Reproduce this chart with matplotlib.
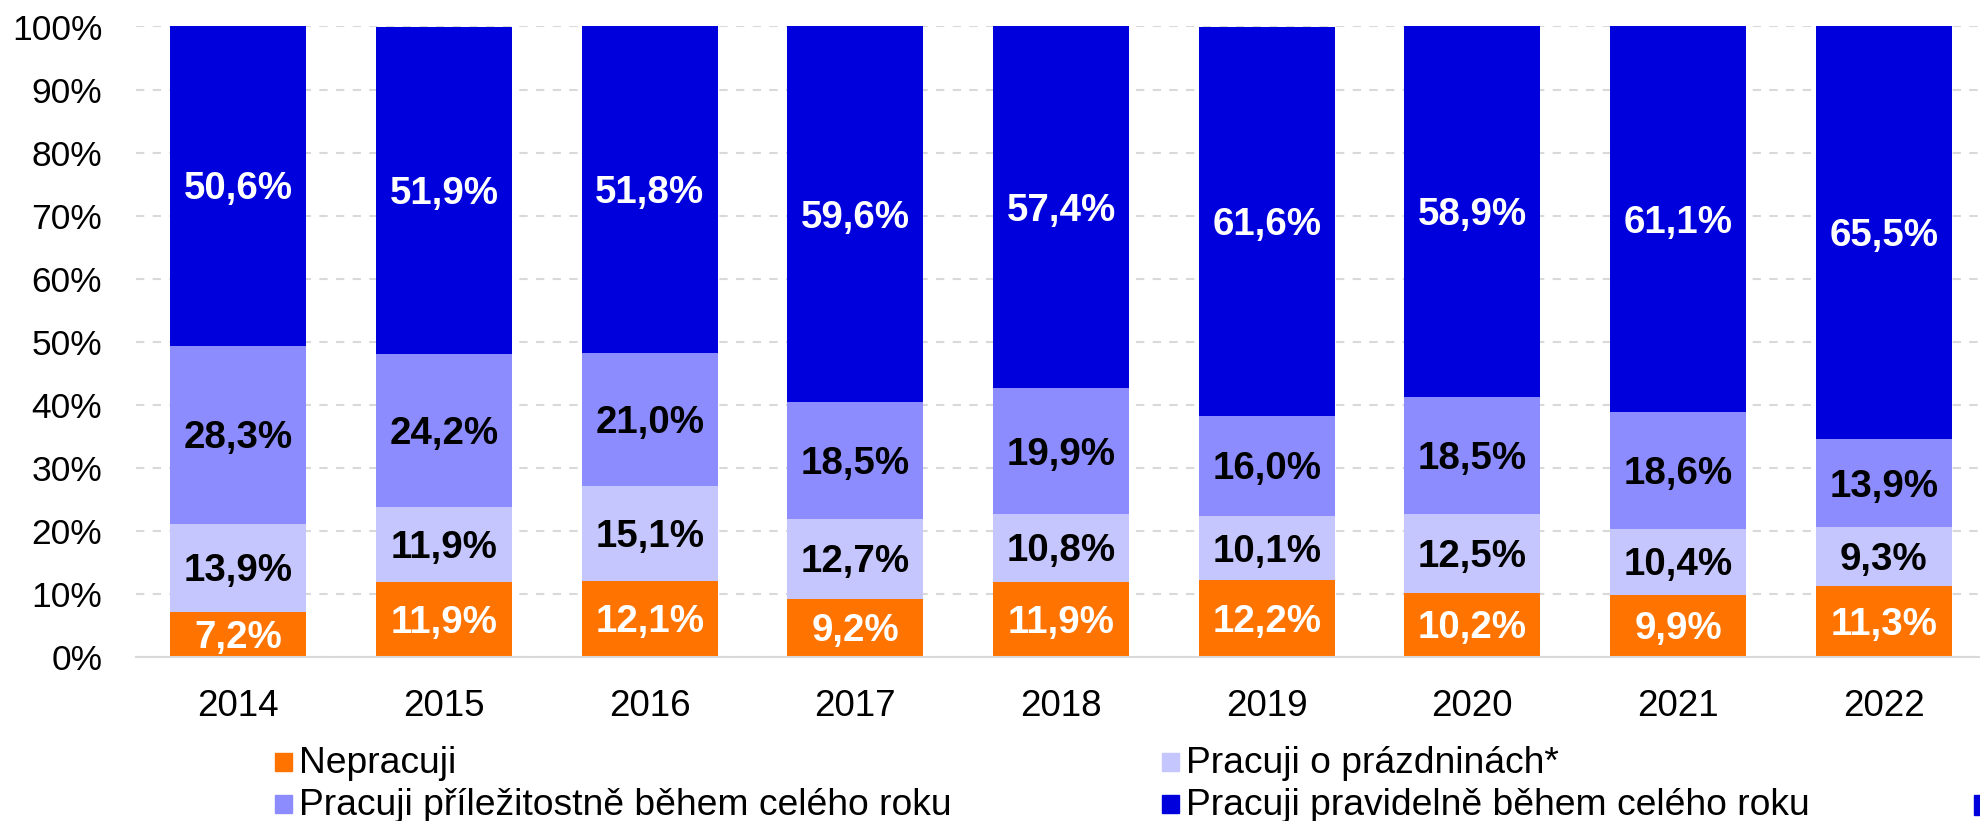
import matplotlib
matplotlib.use("Agg")
import matplotlib.pyplot as plt
from matplotlib.patches import Rectangle
import numpy as np

plt.rcParams['font.family'] = ['Liberation Sans', 'DejaVu Sans']

years = ["2014", "2015", "2016", "2017", "2018", "2019", "2020", "2021", "2022"]
nepracuji = [7.2, 11.9, 12.1, 9.2, 11.9, 12.2, 10.2, 9.9, 11.3]
prazdniny = [13.9, 11.9, 15.1, 12.7, 10.8, 10.1, 12.5, 10.4, 9.3]
prilezitostne = [28.3, 24.2, 21.0, 18.5, 19.9, 16.0, 18.5, 18.6, 13.9]
pravidelne = [50.6, 51.9, 51.8, 59.6, 57.4, 61.6, 58.9, 61.1, 65.5]

series = [
    ("Nepracuji", nepracuji, "#FF7300", "white"),
    ("Pracuji o prázdninách*", prazdniny, "#C6C6FF", "black"),
    ("Pracuji příležitostně během celého roku", prilezitostne, "#8C8CFF", "black"),
    ("Pracuji pravidelně během celého roku", pravidelne, "#0000DC", "white"),
]

fig = plt.figure(figsize=(19.8, 8.21), dpi=100)
ax = fig.add_axes([135.5/1980, 1 - 657/821, 1851/1980, (657 - 26.5)/821])

x = np.arange(len(years))
bottom = np.zeros(len(years))
for name, vals, color, tcol in series:
    vals = np.array(vals)
    ax.bar(x, vals, width=0.66, bottom=bottom, color=color, label=name, zorder=2)
    for xi, b, v in zip(x, bottom, vals):
        ax.annotate(f"{v:.1f}%".replace(".", ","), xy=(xi, b + v / 2), xytext=(0, -2.5),
                    textcoords="offset points", ha="center", va="center",
                    color=tcol, fontsize=27.7, fontweight="bold", zorder=3)
    bottom += vals

ax.set_xlim(-0.5, len(years) - 0.5)
ax.set_ylim(0, 100)
ax.set_yticks(np.arange(0, 101, 10))
ax.set_yticklabels([f"{v}%" for v in range(0, 101, 10)], fontsize=25.5)
ax.set_xticks(x)
ax.set_xticklabels(years, fontsize=26.5)
ax.tick_params(axis="both", length=0)
ax.tick_params(axis="y", pad=24)
ax.tick_params(axis="x", pad=23)
for s in ["top", "right", "left"]:
    ax.spines[s].set_visible(False)
ax.spines["bottom"].set_color("#D9D9D9")
ax.spines["bottom"].set_linewidth(1.5)
ax.yaxis.grid(True, linestyle=(0, (4, 4)), color="#D9D9D9", linewidth=1.5, zorder=0)
ax.set_axisbelow(True)

# manual legend
leg_pos = [(275, 762), (1162, 762), (275, 804), (1162, 804)]
for (name, vals, color, tcol), (lx, ly) in zip(series, leg_pos):
    fig.add_artist(Rectangle((lx / 1980, 1 - (ly + 9) / 821), 17 / 1980, 18 / 821,
                             transform=fig.transFigure, color=color))
    fig.text((lx + 24) / 1980, 1 - (ly + 1) / 821, name, fontsize=26.8, va="center", ha="left")

fig.add_artist(Rectangle((1974 / 1980, 1 - 815 / 821), 20 / 1980, 20 / 821,
                         transform=fig.transFigure, color="#0000DC", clip_on=False))

fig.savefig("out.png", dpi=100)
